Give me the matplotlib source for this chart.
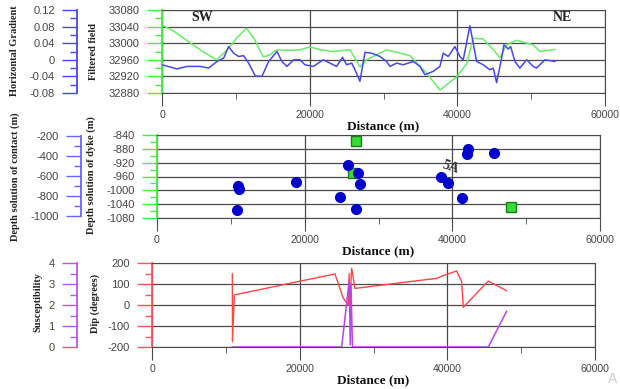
import matplotlib.pyplot as plt
from matplotlib.ticker import MultipleLocator, FuncFormatter

plt.rcParams['axes.unicode_minus'] = False
plt.rcParams['font.family'] = ['Liberation Sans', 'DejaVu Sans']

# ---- panel 1 : filtered field (green) and horizontal gradient (blue)
field_dist = [0, 1500, 3500, 5500, 7400, 8810, 10300, 11460, 12500, 13720, 14600,
              15520, 17000, 18690, 20040, 21500, 23200, 25460, 26810, 27710, 30420,
              33580, 35840, 37640, 39900, 41250, 42150, 43510, 44860, 45760, 46670,
              48020, 50280, 51180, 53210]
field_val = [33044, 33030, 33005, 32980, 32960, 32984, 33016, 33036, 33010, 32967, 32972,
             32984, 32983, 32984, 32991, 32984, 32980, 32984, 32943, 32960, 32984,
             32970, 32928, 32887, 32919, 32950, 33012, 33010, 32985, 32965, 32996,
             33007, 32996, 32980, 32985]

grad_dist = [0, 2030, 3380, 5190, 6320, 7450, 8350, 9030, 9700, 10380, 11060, 11730,
             12640, 13540, 14440, 15570, 16240, 16920, 17830, 18685, 19360, 20490,
             21840, 22740, 23650, 24460, 25000, 25690, 26140, 26810, 27490, 28390,
             29520, 30420, 30870, 31780, 32680, 34030, 34940, 35610, 36730, 37640,
             38090, 38770, 39670, 40350, 40800, 41700, 42150, 42610, 43510, 44410,
             44860, 45320, 46000, 46310, 46900, 47220, 47800, 48470, 49380, 50280,
             50730, 51860, 53210]
grad_val = [-0.012, -0.022, -0.016, -0.016, -0.020, -0.004, 0.004, 0.032, 0.016, 0.008,
            0.010, -0.008, -0.039, -0.040, -0.004, 0.020, -0.004, -0.016, 0.0, 0.0,
            -0.012, -0.016, 0.0, -0.008, -0.016, 0.006, -0.012, -0.008, -0.024, -0.052,
            0.018, 0.016, 0.008, -0.004, -0.016, -0.008, -0.012, -0.004, -0.016, -0.036,
            -0.028, -0.016, 0.016, 0.008, 0.032, 0.008, 0.0, 0.082, 0.040, -0.004,
            -0.012, -0.024, -0.020, -0.055, 0.004, 0.036, 0.026, 0.032, -0.004, -0.020,
            0.0, -0.016, -0.020, 0.0, -0.004]

# ---- panel 2 : Euler depth solutions
contact_dist = [10930, 11150, 10840, 18780, 42170, 41940, 45640, 25830, 27270, 27490,
                24790, 26950, 38510, 39370, 41350]
contact_depth = [-700, -733, -940, -657, -330, -380, -373, -493, -573, -677,
                 -810, -933, -610, -673, -820]
dyke_dist = [26950, 26590, 47900]
dyke_depth = [-857, -951, -1048]

# ---- panel 3 : dip (red) and susceptibility (magenta)
dip_dist = [10880, 10900, 11150, 24780, 25910, 26580, 26700, 26780, 27040, 27490,
            38540, 39900, 41260, 41940, 42160, 45540, 48030]
dip_val = [148, -175, 48, 148, 32, 0, 150, -10, 175, 79, 127, 146, 162, 111, -11, 114, 68]
susc_dist = [10880, 25690, 26720, 26850, 26950, 27150, 45540, 48030]
susc_val = [0, 0, 3.2, 0.1, 3.0, 0, 0, 1.7]

GRID = '#4a4a4a'
TXT = '#444444'
SERIF = 'Liberation Serif'
W, H = 620, 389


def fmt(v, pos):
    return '0' if abs(v) < 1e-9 else f'{v:g}'


def style_main(ax, color, ylim, major, minor):
    ax.set_xlim(0, 60000)
    ax.set_ylim(ylim)
    ax.xaxis.set_major_locator(MultipleLocator(20000))
    ax.xaxis.set_minor_locator(MultipleLocator(10000))
    ax.yaxis.set_major_locator(MultipleLocator(major))
    ax.yaxis.set_minor_locator(MultipleLocator(minor))
    ax.xaxis.set_major_formatter(FuncFormatter(fmt))
    ax.yaxis.set_major_formatter(FuncFormatter(fmt))
    ax.grid(True, which='major', color=GRID, lw=0.9)
    ax.set_axisbelow(True)
    for s in ['top', 'right', 'bottom']:
        ax.spines[s].set_color(GRID)
    ax.spines['left'].set_color(color)
    ax.spines['left'].set_linewidth(1.3)
    ax.tick_params(axis='y', which='major', length=11, width=1, color=color,
                   labelsize=8, labelcolor=TXT, pad=5)
    ax.tick_params(axis='y', which='minor', length=5, width=1, color=color)
    ax.tick_params(axis='x', which='major', length=9, color=GRID,
                   labelsize=7.6, labelcolor=TXT, pad=3)
    ax.tick_params(axis='x', which='minor', length=4, color=GRID)


def twin_left(ax, color, ylim, bounds, major, minor, offset):
    tw = ax.twinx()
    tw.set_ylim(ylim)
    tw.yaxis.set_ticks_position('left')
    for s in ['right', 'top', 'bottom']:
        tw.spines[s].set_visible(False)
    tw.spines['left'].set_visible(True)
    tw.spines['left'].set_position(('outward', offset))
    tw.spines['left'].set_color(color)
    tw.spines['left'].set_linewidth(1.3)
    tw.spines['left'].set_bounds(*bounds)
    tw.yaxis.set_major_locator(MultipleLocator(major))
    tw.yaxis.set_minor_locator(MultipleLocator(minor))
    tw.yaxis.set_major_formatter(FuncFormatter(fmt))
    tw.tick_params(axis='y', which='major', length=11, width=1, color=color,
                   labelsize=8, labelcolor=TXT, pad=5)
    tw.tick_params(axis='y', which='minor', length=5, width=1, color=color)
    return tw


fig = plt.figure(figsize=(6.2, 3.89), dpi=100)


def box(l, r, t, b):
    return [l / W, 1 - b / H, (r - l) / W, (b - t) / H]


def xtitle(x, y):
    fig.text(x / W, 1 - y / H, 'Distance (m)', ha='center', va='center',
             family=SERIF, fontweight='bold', fontsize=9.5, color='#111')


# panel 1
ax1 = fig.add_axes(box(162, 605, 10, 93))
style_main(ax1, '#44ee44', (32880, 33080), 40, 20)
tw1 = twin_left(ax1, '#4444ff', (-0.0801, 0.1201), (-0.08, 0.12), 0.04, 0.02, 61)
ax1.plot(field_dist, field_val, color='#66ee66', lw=1.1)
tw1.plot(grad_dist, grad_val, color='#4848e8', lw=1.1)
ax1.text(5500, 33062, 'SW', family=SERIF, fontweight='bold', fontsize=10, ha='center', va='center', color='#222')
ax1.text(54300, 33062, 'NE', family=SERIF, fontweight='bold', fontsize=10, ha='center', va='center', color='#222')
xtitle(383, 126)

# panel 2
ax2 = fig.add_axes(box(157, 600, 135, 218))
style_main(ax2, '#44ee44', (-1080, -840), 40, 20)
tw2 = twin_left(ax2, '#6666ff', (-1020, -190), (-1000, -200), 200, 100, 55)
tw2.plot(contact_dist, contact_depth, 'o', color='#0000cc', ms=7)
ax2.plot(dyke_dist, dyke_depth, 's', color='#33dd33', mec='#227722', ms=6.5, zorder=3)
ax2.text(39700, -933, '5A', family=SERIF, fontweight='bold', fontsize=10, ha='center',
         va='center', rotation=-18, color='#333')
xtitle(378, 251)

# panel 3
ax3 = fig.add_axes(box(152, 595, 263, 347))
style_main(ax3, '#ff5555', (-200, 200), 100, 50)
tw3 = twin_left(ax3, '#bb55ee', (0, 4), (0, 4), 1, 0.5, 54)
ax3.plot(dip_dist, dip_val, color='#ff4444', lw=1.0)
tw3.plot(susc_dist, susc_val, color='#bb44ee', lw=1.1)
xtitle(373, 380)

# vertical axis titles
ylabels = [('Horizontal Gradient', 15, 51), ('Filtered field', 94, 52),
           ('Depth solution of contact (m)', 15, 177), ('Depth solution of dyke (m)', 91, 175),
           ('Susceptibility', 38, 302), ('Dip (degrees)', 95, 303)]
for label, x, y in ylabels:
    fig.text(x / W, 1 - y / H, label, rotation=90, ha='center', va='center',
             family=SERIF, fontweight='bold', fontsize=7.5, color='#222')

fig.text(613 / W, 1 - 379 / H, 'A', ha='center', va='center', fontsize=10, color='#cccccc')

fig.savefig('out.png', dpi=100)
